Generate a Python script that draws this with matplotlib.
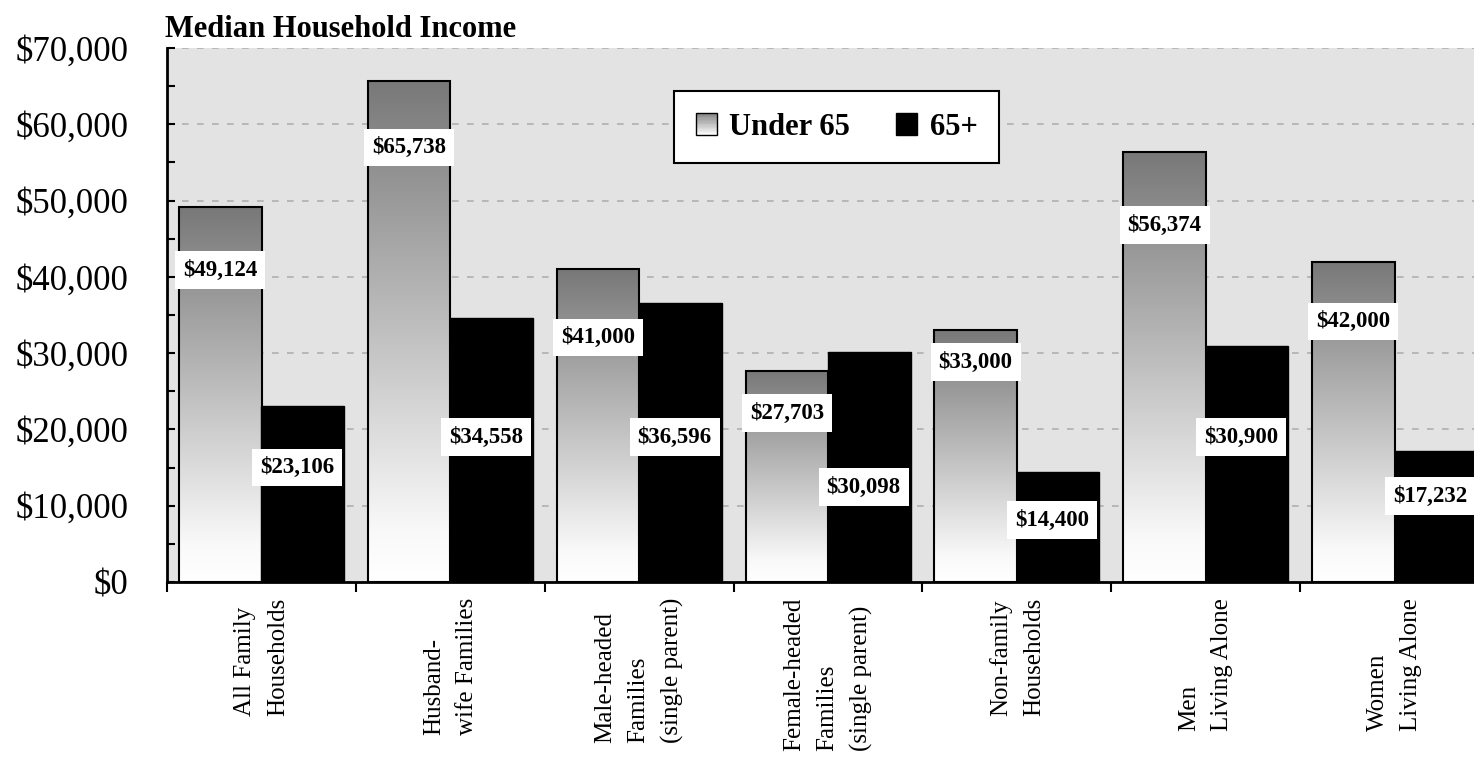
import numpy as np
import matplotlib
matplotlib.use('Agg')
import matplotlib.pyplot as plt
from matplotlib.colors import LinearSegmentedColormap
from matplotlib.patches import Rectangle, Patch
from matplotlib.legend_handler import HandlerBase
import matplotlib.transforms as mtransforms

# data
categories = ['All Family\nHouseholds', 'Husband-\nwife Families',
              'Male-headed\nFamilies\n(single parent)',
              'Female-headed\nFamilies\n(single parent)',
              'Non-family\nHouseholds', 'Men\nLiving Alone', 'Women\nLiving Alone']
under65 = [49124, 65738, 41000, 27703, 33000, 56374, 42000]
over65 = [23106, 34558, 36596, 30098, 14400, 30900, 17232]
yticks = [0, 10000, 20000, 30000, 40000, 50000, 60000, 70000]

# where the value boxes sit (data units)
under_lbl_y = [40900, 56900, 32000, 22150, 28840, 46800, 34090]
over_lbl_y = [14950, 19010, 19010, 12450, 8130, 19010, 11270]

plt.rcParams['font.family'] = ['Liberation Serif', 'DejaVu Serif']

grad = LinearSegmentedColormap.from_list('bargrad', [(0, '#ffffff'), (0.1, '#f9f9f9'), (1, '#787878')])

fig = plt.figure(figsize=(14.74, 7.62), dpi=100)
ax = fig.add_axes([167/1474, 1 - 582/762, 1322/1474, 534/762])
ax.set_facecolor('#e3e3e3')

bw = 0.437
x = np.arange(len(categories))
x_under = x + 0.0635
x_over = x + 0.5

# gradient bars
col = np.linspace(0, 1, 256).reshape(-1, 1)
for xi, v in zip(x_under, under65):
    ax.imshow(col, cmap=grad, origin='lower', aspect='auto',
              extent=[xi, xi + bw, 0, v], zorder=2, interpolation='bilinear')
ax.bar(x_under, under65, width=bw, align='edge', facecolor='none',
       edgecolor='black', linewidth=1.5, zorder=3)
ax.bar(x_over, over65, width=bw, align='edge', color='black',
       edgecolor='black', linewidth=1, zorder=3)

box = dict(boxstyle='square,pad=0.35', facecolor='white', edgecolor='none')
for xi, v, ly in zip(x_under, under65, under_lbl_y):
    ax.text(xi + bw/2, ly, f'${v:,}', ha='center', va='center', fontsize=16.5,
            fontweight='bold', bbox=box, zorder=5)
for xi, v, ly in zip(x_over, over65, over_lbl_y):
    ax.text(xi + bw/2 - 0.03, ly, f'${v:,}', ha='center', va='center', fontsize=16.5,
            fontweight='bold', bbox=box, zorder=5)

ax.set_xlim(0, 7)
ax.set_ylim(0, 70000)
ax.set_yticks(yticks)
ax.set_yticklabels([f'${t:,}' for t in yticks], fontsize=25)
ax.set_yticks(np.arange(5000, 70000, 10000), minor=True)
ax.tick_params(axis='y', which='both', direction='in', length=6, width=1.5, pad=28)
ax.set_xticks(np.arange(0, 8))
ax.set_xticklabels([])
ax.tick_params(axis='x', direction='out', length=7, width=1.5)

ax.yaxis.grid(True, color='#b0b0b0', linestyle=(0, (4, 5)), linewidth=1.2, zorder=1)
ax.set_axisbelow(True)
for s in ['top', 'right']:
    ax.spines[s].set_visible(False)
for s in ['left', 'bottom']:
    ax.spines[s].set_linewidth(2)
    ax.spines[s].set_zorder(4)

trans = mtransforms.blended_transform_factory(ax.transData, ax.transAxes)
for xi, lab in zip(x, categories):
    ax.text(xi + 0.5, -0.03, lab, rotation=90, ha='center', va='top',
            multialignment='left', fontsize=18, linespacing=1.65, transform=trans)

fig.text(165/1474, 1 - 37/762, 'Median Household Income', fontsize=22,
         fontweight='bold', ha='left', va='baseline')


class GradHandler(HandlerBase):
    def create_artists(self, legend, orig_handle, xdescent, ydescent, width, height, fontsize, trans):
        n = 16
        arts = []
        for k in range(n):
            r = Rectangle((-xdescent, -ydescent + k*height/n), width, height/n,
                          facecolor=grad(0.1 + 0.8*k/(n-1)), edgecolor='none', transform=trans)
            arts.append(r)
        arts.append(Rectangle((-xdescent, -ydescent), width, height, facecolor='none',
                              edgecolor='black', linewidth=1, transform=trans))
        return arts


h1 = Patch(facecolor='#bbbbbb', edgecolor='black')
h2 = Patch(facecolor='black', edgecolor='black')
leg = ax.legend([h1, h2], ['Under 65', '65+'], handler_map={h1: GradHandler()},
                loc='center', bbox_to_anchor=(0.5065, 0.852), ncol=2,
                prop={'weight': 'bold', 'size': 22}, handlelength=0.7, handleheight=0.7,
                handletextpad=0.4, columnspacing=1.5, borderpad=0.7, fancybox=False,
                framealpha=1, edgecolor='black')
leg.get_frame().set_linewidth(1.5)
leg.set_zorder(6)

plt.savefig('out.png', dpi=100)
